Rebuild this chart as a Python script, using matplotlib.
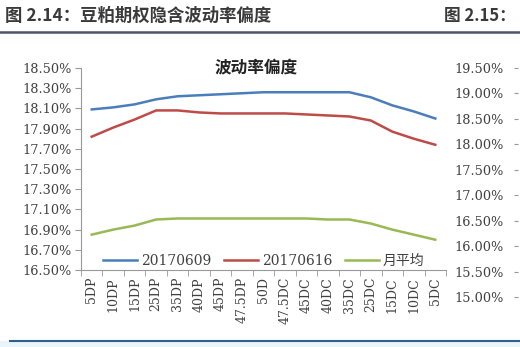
import numpy as np
import matplotlib.pyplot as plt

plt.rcParams['font.family'] = ['Noto Sans CJK SC', 'DejaVu Sans']

categorias = ['5DP', '10DP', '15DP', '25DP', '35DP', '40DP', '45DP', '47.5DP', '50D',
              '47.5DC', '45DC', '40DC', '35DC', '25DC', '15DC', '10DC', '5DC']
vol_0609 = [18.09, 18.11, 18.14, 18.19, 18.22, 18.23, 18.24, 18.25, 18.26,
            18.26, 18.26, 18.26, 18.26, 18.21, 18.13, 18.07, 18.00]
vol_0616 = [17.82, 17.91, 17.99, 18.08, 18.08, 18.06, 18.05, 18.05, 18.05,
            18.05, 18.04, 18.03, 18.02, 17.98, 17.87, 17.80, 17.74]
vol_mes = [16.85, 16.90, 16.94, 17.00, 17.01, 17.01, 17.01, 17.01, 17.01,
           17.01, 17.01, 17.00, 17.00, 16.96, 16.90, 16.85, 16.80]
ticks_y = [16.5, 16.7, 16.9, 17.1, 17.3, 17.5, 17.7, 17.9, 18.1, 18.3, 18.5]
ticks_y2 = [15.0, 15.5, 16.0, 16.5, 17.0, 17.5, 18.0, 18.5, 19.0, 19.5]

W, H = 520, 347
fig = plt.figure(figsize=(W / 100, H / 100), dpi=100)
serif = ['DejaVu Serif', 'Noto Sans CJK SC']

def caja(x0, y0, x1, y1):
    # pixeles (arriba-izquierda) -> fraccion de figura
    return [x0 / W, 1 - y1 / H, (x1 - x0) / W, (y1 - y0) / H]

# encabezado
fig.text(5 / W, 1 - 16 / H, '图 2.14：豆粕期权隐含波动率偏度', fontsize=12.5,
         color='#3a3a3a', va='center', ha='left', fontweight='bold')
fig.text(516 / W, 1 - 16 / H, '图 2.15：', fontsize=12,
         color='#3a3a3a', va='center', ha='right', fontweight='bold')
fig.add_artist(plt.Line2D([0, 1], [1 - 32 / H, 1 - 32 / H], color='#4a5566', lw=1.8))
fig.add_artist(plt.Rectangle((0, 0), 1, 1 - 341 / H, color='#eaf5fb', lw=0))
fig.add_artist(plt.Line2D([10 / W, 1], [1 - 341 / H, 1 - 341 / H], color='#2d5f8a', lw=1.5))

ax = fig.add_axes(caja(81, 68, 446, 270))
x = np.arange(len(categorias))
ax.plot(x, vol_0609, color='#4a7ebb', lw=1.8, label='20170609')
ax.plot(x, vol_0616, color='#be4b48', lw=1.8, label='20170616')
ax.plot(x, vol_mes, color='#98b954', lw=1.8, label='月平均')

ax.set_xlim(-0.5, len(categorias) - 0.5)
ax.set_ylim(16.5, 18.5)
ax.set_yticks(ticks_y)
ax.set_yticklabels(['%.2f%%' % t for t in ticks_y], fontsize=9.3, color='#404040',
                   family=serif)
ax.set_xticks(x)
ax.set_xticklabels(categorias, rotation=90, fontsize=9, color='#404040', family=serif)
ax.set_xticks(np.arange(-0.5, len(categorias), 1), minor=True)
ax.tick_params(axis='x', which='major', length=0, pad=5)
ax.tick_params(axis='x', which='minor', length=4, color='#999999')
ax.tick_params(axis='y', length=4, color='#999999', pad=3)
for s in ['top', 'right']:
    ax.spines[s].set_visible(False)
ax.spines['left'].set_color('#999999')
ax.spines['bottom'].set_color('#999999')

ax.legend(loc='lower center', ncol=3, frameon=False, handlelength=2.5,
          columnspacing=0.9, handletextpad=0.25, bbox_to_anchor=(0.5, -0.05),
          labelcolor='#404040', prop={'family': serif, 'size': 10})

fig.text(256 / W, 1 - 67 / H, '波动率偏度', fontsize=12, fontweight='bold',
         ha='center', va='center', color='#222222')

# panel derecho (cortado)
ax2 = fig.add_axes(caja(518, 68, 600, 297))
ax2.set_ylim(15.0, 19.5)
ax2.set_yticks(ticks_y2)
ax2.set_yticklabels(['%.2f%%' % t for t in ticks_y2], fontsize=9.3, color='#404040',
                    family=serif)
ax2.set_xticks([])
ax2.tick_params(axis='y', length=3, color='#999999', pad=7)
for s in ['top', 'right', 'bottom', 'left']:
    ax2.spines[s].set_visible(False)

fig.savefig('out.png', dpi=100)
